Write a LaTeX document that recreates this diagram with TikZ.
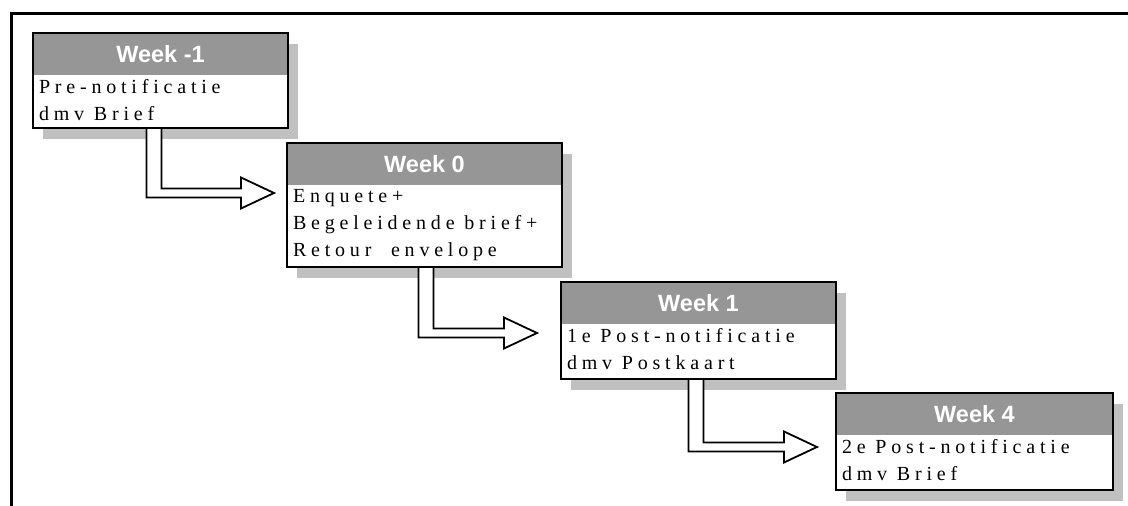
\documentclass[tikz,border=0pt]{standalone}
\usepackage{fontspec}
\setmainfont{Liberation Serif}
\newfontfamily\headfont{Liberation Sans}
\newfontfamily\bodyfont[LetterSpace=24]{Liberation Serif}
\usetikzlibrary{calc,shadows}
\definecolor{headgrey}{RGB}{150,150,150}
\definecolor{shadegrey}{RGB}{192,192,192}
\newcommand\blockarrow[2]{let \p1=(#1), \p2=(#2) in
  (\x1-7.5pt,\y1) -- (\x1-7.5pt,\y2-4.5pt) -- (\x2-33pt,\y2-4.5pt) -- (\x2-33pt,\y2-15.5pt)
  -- (\x2,\y2) -- (\x2-33pt,\y2+15.5pt) -- (\x2-33pt,\y2+4.5pt) -- (\x1+7.5pt,\y2+4.5pt)
  -- (\x1+7.5pt,\y1) -- cycle}
\begin{document}
\begin{tikzpicture}[x=1pt,y=-1pt,
  stepbox/.style={rectangle, draw=black, line width=2pt, fill=white, inner sep=0pt, outer sep=0pt,
    anchor=north west,
    drop shadow={shadow xshift=10pt, shadow yshift=-11pt, fill=shadegrey, opacity=1}},
  headbox/.style={rectangle, fill=headgrey, inner sep=0pt, outer sep=0pt, anchor=north west,
    minimum height=41pt, text=white, font=\headfont\bfseries\fontsize{23.5pt}{27pt}\selectfont},
  bodytext/.style={inner sep=0pt, outer sep=0pt, anchor=north west, align=left,
    font=\bodyfont\fontsize{20pt}{27pt}\selectfont},
  arrowshade/.style={fill=shadegrey, shift={(8pt,-8pt)}},
  arrowline/.style={draw=black, fill=white, line width=1.8pt, line join=miter}]
\useasboundingbox (0,0) rectangle (1128,506);
\fill[white] (0,0) rectangle (1128,506);
\draw[line width=3pt, line join=miter] (11.5,506) -- (11.5,13.5) -- (1128,13.5);

% boxes
\node[stepbox, minimum width=255pt, minimum height=95pt] (b1) at (33,33) {};
\node[headbox, minimum width=253pt] (h1) at ($(b1.north west)+(1,1)$) {Week -1};
\node[bodytext] (t1) at ($(h1.south west)+(5,4)$) {Pre-notificatie\\dmv Brief};

\node[stepbox, minimum width=275pt, minimum height=124pt] (b2) at (287,143) {};
\node[headbox, minimum width=273pt] (h2) at ($(b2.north west)+(1,1)$) {Week 0};
\node[bodytext] (t2) at ($(h2.south west)+(5,4)$) {Enquete+\\Begeleidende brief+\\Retour\ \ envelope};

\node[stepbox, minimum width=275pt, minimum height=97pt] (b3) at (561,282) {};
\node[headbox, minimum width=273pt] (h3) at ($(b3.north west)+(1,1)$) {Week 1};
\node[bodytext] (t3) at ($(h3.south west)+(5,4)$) {1e Post-notificatie\\dmv Postkaart};

\node[stepbox, minimum width=277pt, minimum height=97pt] (b4) at (836,393) {};
\node[headbox, minimum width=275pt] (h4) at ($(b4.north west)+(1,1)$) {Week 4};
\node[bodytext] (t4) at ($(h4.south west)+(5,4)$) {2e Post-notificatie\\dmv Brief};

% arrow anchor points
\coordinate (s1) at ($(b1.south west)+(121,0)$);
\coordinate (e1) at ($(b2.north west)+(-13,50)$);
\coordinate (s2) at ($(b2.south west)+(139,0)$);
\coordinate (e2) at ($(b3.north west)+(-24,51)$);
\coordinate (s3) at ($(b3.south west)+(135,0)$);
\coordinate (e3) at ($(b4.north west)+(-19,54)$);

\path[arrowshade] \blockarrow{s1}{e1};
\path[arrowline] \blockarrow{s1}{e1};
\path[arrowshade] \blockarrow{s2}{e2};
\path[arrowline] \blockarrow{s2}{e2};
\path[arrowshade] \blockarrow{s3}{e3};
\path[arrowline] \blockarrow{s3}{e3};
\end{tikzpicture}
\end{document}
